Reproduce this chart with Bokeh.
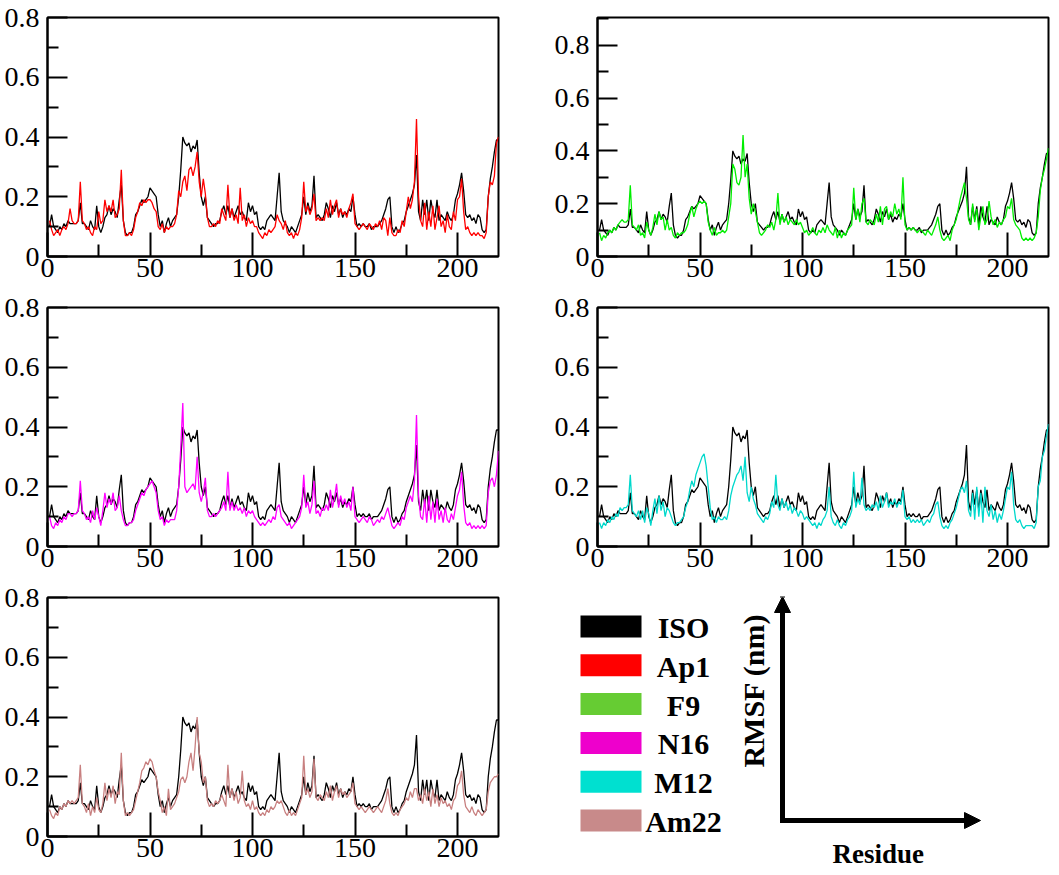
from math import pi
from bokeh.plotting import figure
from bokeh.layouts import column, row
from bokeh.models import Range1d, FixedTicker, Arrow, NormalHead, Label, ColumnDataSource
from bokeh.core.properties import value
from bokeh.embed import file_html
from bokeh.resources import INLINE

residues = list(range(1, 221))

iso = [0.10, 0.14, 0.10, 0.09, 0.08, 0.10, 0.09, 0.11, 0.10, 0.12,
       0.11, 0.11, 0.11, 0.11, 0.12, 0.18, 0.11, 0.11, 0.10, 0.09,
       0.12, 0.10, 0.09, 0.17, 0.10, 0.08, 0.10, 0.13, 0.14, 0.17,
       0.14, 0.16, 0.15, 0.13, 0.19, 0.24, 0.12, 0.08, 0.07, 0.08,
       0.08, 0.10, 0.14, 0.15, 0.17, 0.19, 0.18, 0.19, 0.20, 0.23,
       0.22, 0.21, 0.20, 0.14, 0.10, 0.12, 0.08, 0.11, 0.13, 0.10,
       0.12, 0.13, 0.14, 0.20, 0.29, 0.40, 0.38, 0.37, 0.38, 0.35,
       0.37, 0.36, 0.39, 0.28, 0.20, 0.17, 0.20, 0.13, 0.12, 0.11,
       0.10, 0.11, 0.11, 0.12, 0.15, 0.17, 0.14, 0.17, 0.13, 0.16,
       0.13, 0.15, 0.17, 0.14, 0.15, 0.13, 0.12, 0.18, 0.15, 0.17,
       0.14, 0.15, 0.10, 0.09, 0.10, 0.09, 0.12, 0.13, 0.14, 0.13,
       0.12, 0.20, 0.28, 0.15, 0.12, 0.11, 0.10, 0.08, 0.10, 0.09,
       0.08, 0.10, 0.12, 0.14, 0.20, 0.14, 0.18, 0.15, 0.17, 0.27,
       0.13, 0.14, 0.13, 0.12, 0.14, 0.18, 0.16, 0.13, 0.17, 0.15,
       0.18, 0.14, 0.16, 0.13, 0.15, 0.14, 0.16, 0.15, 0.20, 0.14,
       0.10, 0.11, 0.10, 0.11, 0.10, 0.10, 0.11, 0.09, 0.10, 0.10,
       0.10, 0.11, 0.12, 0.14, 0.16, 0.19, 0.20, 0.10, 0.08, 0.10,
       0.08, 0.09, 0.11, 0.12, 0.15, 0.17, 0.19, 0.21, 0.24, 0.34,
       0.15, 0.12, 0.19, 0.14, 0.19, 0.12, 0.19, 0.15, 0.13, 0.19,
       0.12, 0.14, 0.13, 0.12, 0.15, 0.13, 0.12, 0.14, 0.19, 0.21,
       0.24, 0.28, 0.22, 0.14, 0.13, 0.14, 0.12, 0.13, 0.11, 0.14,
       0.13, 0.09, 0.08, 0.09, 0.20, 0.26, 0.30, 0.35, 0.39, 0.39]

ap1 = [0.12, 0.09, 0.07, 0.08, 0.09, 0.07, 0.09, 0.10, 0.09, 0.11,
       0.16, 0.12, 0.11, 0.11, 0.12, 0.25, 0.12, 0.11, 0.09, 0.10,
       0.08, 0.07, 0.10, 0.09, 0.15, 0.11, 0.12, 0.19, 0.15, 0.17,
       0.15, 0.19, 0.13, 0.14, 0.16, 0.29, 0.12, 0.07, 0.07, 0.08,
       0.07, 0.09, 0.13, 0.15, 0.18, 0.17, 0.19, 0.18, 0.19, 0.19,
       0.18, 0.16, 0.15, 0.10, 0.09, 0.11, 0.08, 0.10, 0.09, 0.10,
       0.10, 0.11, 0.14, 0.22, 0.20, 0.25, 0.27, 0.22, 0.29, 0.30,
       0.27, 0.30, 0.35, 0.25, 0.20, 0.26, 0.21, 0.13, 0.10, 0.10,
       0.11, 0.10, 0.12, 0.11, 0.16, 0.14, 0.12, 0.24, 0.13, 0.16,
       0.12, 0.14, 0.11, 0.23, 0.12, 0.14, 0.10, 0.13, 0.11, 0.12,
       0.10, 0.10, 0.08, 0.07, 0.06, 0.08, 0.07, 0.09, 0.08, 0.09,
       0.10, 0.14, 0.12, 0.11, 0.09, 0.12, 0.08, 0.07, 0.08, 0.06,
       0.08, 0.07, 0.09, 0.13, 0.25, 0.15, 0.17, 0.14, 0.16, 0.21,
       0.12, 0.13, 0.12, 0.13, 0.12, 0.16, 0.13, 0.19, 0.14, 0.17,
       0.19, 0.13, 0.16, 0.14, 0.15, 0.13, 0.16, 0.18, 0.21, 0.11,
       0.10, 0.09, 0.10, 0.11, 0.10, 0.09, 0.11, 0.10, 0.09, 0.11,
       0.10, 0.12, 0.09, 0.13, 0.12, 0.07, 0.13, 0.08, 0.07, 0.07,
       0.09, 0.08, 0.12, 0.10, 0.15, 0.20, 0.16, 0.19, 0.25, 0.46,
       0.20, 0.12, 0.10, 0.18, 0.09, 0.15, 0.10, 0.17, 0.09, 0.13,
       0.17, 0.10, 0.12, 0.08, 0.14, 0.10, 0.09, 0.15, 0.12, 0.19,
       0.20, 0.26, 0.15, 0.09, 0.10, 0.08, 0.07, 0.08, 0.07, 0.08,
       0.07, 0.07, 0.06, 0.08, 0.20, 0.25, 0.24, 0.27, 0.38, 0.40]

f9 = [0.09, 0.06, 0.08, 0.07, 0.09, 0.10, 0.09, 0.11, 0.10, 0.12,
      0.13, 0.14, 0.13, 0.13, 0.14, 0.27, 0.12, 0.11, 0.10, 0.12,
      0.08, 0.09, 0.07, 0.13, 0.10, 0.08, 0.11, 0.16, 0.12, 0.17,
      0.14, 0.15, 0.10, 0.14, 0.10, 0.11, 0.08, 0.07, 0.09, 0.08,
      0.09, 0.09, 0.10, 0.12, 0.16, 0.19, 0.15, 0.18, 0.20, 0.21,
      0.20, 0.21, 0.20, 0.13, 0.10, 0.08, 0.11, 0.08, 0.09, 0.09,
      0.10, 0.09, 0.10, 0.15, 0.20, 0.35, 0.33, 0.28, 0.27, 0.30,
      0.46, 0.30, 0.35, 0.22, 0.16, 0.20, 0.17, 0.13, 0.09, 0.08,
      0.09, 0.10, 0.12, 0.11, 0.13, 0.10, 0.14, 0.24, 0.12, 0.16,
      0.13, 0.15, 0.12, 0.14, 0.13, 0.12, 0.14, 0.12, 0.13, 0.11,
      0.09, 0.10, 0.08, 0.09, 0.11, 0.09, 0.08, 0.10, 0.09, 0.11,
      0.09, 0.12, 0.10, 0.09, 0.08, 0.11, 0.07, 0.10, 0.07, 0.09,
      0.08, 0.10, 0.11, 0.12, 0.26, 0.14, 0.18, 0.13, 0.20, 0.22,
      0.13, 0.12, 0.14, 0.13, 0.12, 0.16, 0.13, 0.19, 0.12, 0.18,
      0.19, 0.14, 0.17, 0.15, 0.20, 0.16, 0.18, 0.14, 0.30, 0.12,
      0.10, 0.11, 0.10, 0.11, 0.10, 0.09, 0.10, 0.10, 0.09, 0.08,
      0.10, 0.09, 0.08, 0.10, 0.12, 0.15, 0.10, 0.07, 0.06, 0.07,
      0.08, 0.06, 0.10, 0.12, 0.14, 0.18, 0.22, 0.25, 0.28, 0.22,
      0.14, 0.12, 0.20, 0.13, 0.18, 0.10, 0.15, 0.19, 0.12, 0.14,
      0.21, 0.15, 0.12, 0.14, 0.11, 0.13, 0.12, 0.14, 0.15, 0.19,
      0.18, 0.22, 0.14, 0.12, 0.11, 0.10, 0.07, 0.06, 0.07, 0.06,
      0.07, 0.06, 0.07, 0.09, 0.15, 0.25, 0.30, 0.33, 0.37, 0.41]

n16 = [0.10, 0.07, 0.06, 0.08, 0.07, 0.09, 0.08, 0.10, 0.09, 0.11,
       0.11, 0.10, 0.11, 0.11, 0.12, 0.22, 0.12, 0.11, 0.09, 0.10,
       0.08, 0.12, 0.09, 0.13, 0.10, 0.07, 0.12, 0.18, 0.13, 0.16,
       0.14, 0.18, 0.12, 0.13, 0.17, 0.12, 0.09, 0.07, 0.07, 0.08,
       0.08, 0.09, 0.12, 0.14, 0.16, 0.18, 0.17, 0.19, 0.20, 0.21,
       0.22, 0.20, 0.18, 0.12, 0.09, 0.10, 0.07, 0.09, 0.08, 0.09,
       0.09, 0.09, 0.12, 0.20, 0.33, 0.48, 0.20, 0.18, 0.19, 0.20,
       0.21, 0.19, 0.30, 0.18, 0.15, 0.18, 0.23, 0.12, 0.10, 0.10,
       0.11, 0.10, 0.11, 0.12, 0.13, 0.15, 0.12, 0.25, 0.12, 0.15,
       0.12, 0.14, 0.12, 0.13, 0.11, 0.13, 0.10, 0.12, 0.11, 0.12,
       0.10, 0.09, 0.08, 0.07, 0.08, 0.07, 0.08, 0.09, 0.08, 0.10,
       0.09, 0.13, 0.14, 0.10, 0.09, 0.08, 0.07, 0.08, 0.06, 0.07,
       0.08, 0.09, 0.10, 0.13, 0.24, 0.13, 0.15, 0.11, 0.14, 0.22,
       0.11, 0.12, 0.10, 0.13, 0.12, 0.14, 0.12, 0.19, 0.13, 0.16,
       0.21, 0.13, 0.17, 0.14, 0.16, 0.13, 0.15, 0.12, 0.20, 0.10,
       0.09, 0.08, 0.09, 0.10, 0.09, 0.08, 0.10, 0.09, 0.07, 0.08,
       0.09, 0.08, 0.10, 0.09, 0.11, 0.13, 0.10, 0.07, 0.06, 0.07,
       0.08, 0.07, 0.10, 0.09, 0.13, 0.15, 0.17, 0.15, 0.22, 0.44,
       0.17, 0.10, 0.09, 0.16, 0.08, 0.17, 0.09, 0.15, 0.08, 0.16,
       0.09, 0.12, 0.08, 0.13, 0.09, 0.08, 0.11, 0.09, 0.13, 0.17,
       0.19, 0.25, 0.14, 0.08, 0.07, 0.08, 0.06, 0.07, 0.06, 0.07,
       0.06, 0.07, 0.06, 0.07, 0.18, 0.22, 0.23, 0.20, 0.24, 0.32]

m12 = [0.08, 0.06, 0.08, 0.07, 0.09, 0.08, 0.10, 0.09, 0.11, 0.10,
       0.13, 0.12, 0.13, 0.13, 0.14, 0.24, 0.12, 0.11, 0.10, 0.12,
       0.09, 0.12, 0.08, 0.13, 0.11, 0.07, 0.12, 0.16, 0.11, 0.17,
       0.12, 0.15, 0.10, 0.13, 0.12, 0.10, 0.08, 0.07, 0.08, 0.08,
       0.09, 0.10, 0.13, 0.15, 0.19, 0.22, 0.20, 0.24, 0.26, 0.28,
       0.30, 0.31, 0.27, 0.20, 0.13, 0.09, 0.10, 0.08, 0.10, 0.09,
       0.09, 0.10, 0.09, 0.12, 0.17, 0.20, 0.22, 0.24, 0.25, 0.27,
       0.22, 0.30, 0.18, 0.15, 0.20, 0.16, 0.14, 0.11, 0.10, 0.09,
       0.08, 0.10, 0.09, 0.11, 0.15, 0.13, 0.24, 0.14, 0.12, 0.16,
       0.13, 0.15, 0.12, 0.14, 0.11, 0.13, 0.12, 0.10, 0.12, 0.11,
       0.09, 0.10, 0.09, 0.08, 0.07, 0.08, 0.06, 0.08, 0.07, 0.09,
       0.10, 0.12, 0.20, 0.10, 0.08, 0.07, 0.09, 0.07, 0.06, 0.08,
       0.07, 0.09, 0.10, 0.12, 0.25, 0.13, 0.16, 0.14, 0.23, 0.14,
       0.12, 0.13, 0.12, 0.14, 0.13, 0.15, 0.12, 0.17, 0.13, 0.15,
       0.18, 0.13, 0.15, 0.14, 0.16, 0.13, 0.15, 0.14, 0.19, 0.10,
       0.09, 0.10, 0.08, 0.09, 0.08, 0.09, 0.08, 0.09, 0.07, 0.08,
       0.09, 0.08, 0.10, 0.11, 0.14, 0.15, 0.10, 0.07, 0.06, 0.07,
       0.06, 0.08, 0.09, 0.11, 0.13, 0.16, 0.19, 0.20, 0.18, 0.22,
       0.12, 0.10, 0.18, 0.09, 0.20, 0.10, 0.18, 0.08, 0.20, 0.12,
       0.10, 0.14, 0.09, 0.12, 0.08, 0.11, 0.09, 0.12, 0.16, 0.20,
       0.19, 0.25, 0.14, 0.09, 0.08, 0.09, 0.07, 0.06, 0.07, 0.07,
       0.07, 0.07, 0.06, 0.08, 0.20, 0.22, 0.30, 0.32, 0.37, 0.41]

am22 = [0.09, 0.07, 0.06, 0.08, 0.07, 0.10, 0.09, 0.11, 0.10, 0.12,
        0.11, 0.12, 0.11, 0.12, 0.13, 0.24, 0.11, 0.10, 0.08, 0.11,
        0.07, 0.10, 0.08, 0.13, 0.09, 0.08, 0.11, 0.18, 0.12, 0.16,
        0.13, 0.17, 0.11, 0.15, 0.14, 0.28, 0.12, 0.07, 0.08, 0.07,
        0.08, 0.09, 0.12, 0.15, 0.18, 0.22, 0.23, 0.25, 0.24, 0.26,
        0.25, 0.22, 0.20, 0.15, 0.12, 0.08, 0.10, 0.07, 0.16, 0.09,
        0.10, 0.11, 0.13, 0.15, 0.19, 0.20, 0.18, 0.20, 0.25, 0.28,
        0.22, 0.30, 0.40, 0.28, 0.25, 0.18, 0.20, 0.12, 0.10, 0.11,
        0.10, 0.12, 0.11, 0.12, 0.14, 0.12, 0.10, 0.24, 0.13, 0.16,
        0.12, 0.15, 0.11, 0.13, 0.22, 0.12, 0.10, 0.11, 0.09, 0.12,
        0.09, 0.10, 0.08, 0.07, 0.08, 0.07, 0.09, 0.08, 0.10, 0.09,
        0.10, 0.12, 0.11, 0.12, 0.10, 0.08, 0.07, 0.09, 0.07, 0.08,
        0.07, 0.09, 0.11, 0.13, 0.27, 0.14, 0.16, 0.13, 0.15, 0.26,
        0.13, 0.12, 0.14, 0.13, 0.12, 0.15, 0.13, 0.17, 0.12, 0.15,
        0.17, 0.13, 0.16, 0.14, 0.15, 0.13, 0.14, 0.15, 0.18, 0.11,
        0.10, 0.09, 0.10, 0.09, 0.08, 0.09, 0.10, 0.09, 0.08, 0.09,
        0.10, 0.09, 0.08, 0.10, 0.12, 0.16, 0.11, 0.08, 0.07, 0.08,
        0.07, 0.09, 0.10, 0.11, 0.13, 0.12, 0.15, 0.13, 0.16, 0.16,
        0.12, 0.14, 0.11, 0.16, 0.12, 0.15, 0.10, 0.16, 0.11, 0.14,
        0.10, 0.13, 0.11, 0.12, 0.10, 0.11, 0.09, 0.12, 0.13, 0.17,
        0.18, 0.22, 0.14, 0.10, 0.09, 0.08, 0.10, 0.08, 0.07, 0.09,
        0.08, 0.07, 0.08, 0.09, 0.15, 0.18, 0.19, 0.20, 0.20, 0.21]

series_names = ["ISO", "Ap1", "F9", "N16", "M12", "Am22"]
line_colors = ["#000000", "#ff0000", "#00ee00", "#ff00ff", "#00d8cc", "#c88080"]
legend_colors = ["#000000", "#ff0000", "#66cc33", "#ee00cc", "#00e0d0", "#c88a8a"]

x_major = [0, 50, 100, 150, 200]
x_minor = [25, 75, 125, 175]
y_major = [0, 0.2, 0.4, 0.6, 0.8]
y_minor = [0.1, 0.3, 0.5, 0.7, 0.9]
y_labels = {0: "0", 0.2: "0.2", 0.4: "0.4", 0.6: "0.6", 0.8: "0.8"}

FONT = "Liberation Serif"
ROW_H = 290
TOP_B = 17
BOT_B = 34
LEFT_W = 540
RIGHT_W = 519


def panel(variant, color, ymax, width, left, right):
    p = figure(width=width, height=ROW_H, x_range=Range1d(0, 220), y_range=Range1d(0, ymax),
               output_backend="svg", toolbar_location=None, title=None,
               min_border_left=left, min_border_right=right,
               min_border_top=TOP_B, min_border_bottom=BOT_B)
    p.grid.visible = False
    p.background_fill_color = "white"
    p.border_fill_color = "white"
    p.outline_line_color = "black"
    p.outline_line_width = 2
    p.line(residues, iso, line_color="#000000", line_width=1.3)
    p.line(residues, variant, line_color=color, line_width=1.3)
    p.xaxis.ticker = FixedTicker(ticks=x_major, minor_ticks=x_minor)
    p.yaxis.ticker = FixedTicker(ticks=y_major, minor_ticks=y_minor)
    p.yaxis.major_label_overrides = y_labels
    for ax in (p.xaxis[0], p.yaxis[0]):
        ax.axis_line_width = 2
        ax.major_tick_line_width = 2
        ax.minor_tick_line_width = 2
        ax.major_tick_out = 0
        ax.minor_tick_out = 0
        ax.major_label_text_font = FONT
        ax.major_label_text_font_size = "28px"
        ax.major_label_text_color = "black"
    p.yaxis.major_tick_in = 20
    p.yaxis.minor_tick_in = 11
    p.xaxis.major_tick_in = 24
    p.xaxis.minor_tick_in = 12
    p.yaxis.major_label_standoff = 8
    p.xaxis.major_label_standoff = 2
    return p


p_ap1 = panel(ap1, line_colors[1], 0.8, LEFT_W, 47, 42)
p_f9 = panel(f9, line_colors[2], 0.905, RIGHT_W, 57, 11)
p_n16 = panel(n16, line_colors[3], 0.8, LEFT_W, 47, 42)
p_m12 = panel(m12, line_colors[4], 0.8, RIGHT_W, 57, 11)
p_am22 = panel(am22, line_colors[5], 0.8, LEFT_W, 47, 42)

# legend and axis-key panel: data units equal pixels of this panel, y downwards
k = figure(width=RIGHT_W, height=ROW_H, x_range=Range1d(0, RIGHT_W),
           y_range=Range1d(ROW_H - BOT_B, TOP_B),
           output_backend="svg", toolbar_location=None, x_axis_location=None, y_axis_location=None,
           title="Residue", title_location="below", min_border_left=0, min_border_right=0,
           min_border_top=TOP_B, min_border_bottom=BOT_B)
k.grid.visible = False
k.outline_line_color = None
k.background_fill_color = "white"
k.border_fill_color = "white"
k.title.align = "left"
k.title.offset = 292
k.title.standoff = 0
k.title.text_font = FONT
k.title.text_font_style = "bold"
k.title.text_font_size = "27px"
k.title.text_color = "black"

step = 38.8
tops = [35 + i * step for i in range(6)]
box_src = ColumnDataSource(dict(
    left=[40] * 6, right=[101] * 6,
    top=tops, bottom=[t + 22 for t in tops],
    color=legend_colors, name=series_names,
    tx=[143] * 6, ty=[t + 12 for t in tops],
))
k.quad(left="left", right="right", top="top", bottom="bottom", fill_color="color",
       line_color=None, source=box_src)
k.text(x="tx", y="ty", text="name", source=box_src, text_font=value(FONT), text_font_style="bold",
       text_font_size="30px", text_align="center", text_baseline="middle", text_color="black")

ox, oy = 242, 240
k.add_layout(Arrow(end=NormalHead(size=16, fill_color="black", line_color="black"),
                   x_start=ox, y_start=oy + 2.5, x_end=ox, y_end=16, line_width=5, line_color="black"))
k.add_layout(Arrow(end=NormalHead(size=16, fill_color="black", line_color="black"),
                   x_start=ox - 2.5, y_start=oy, x_end=440, y_end=oy, line_width=5, line_color="black"))
k.add_layout(Label(x=213, y=110, text="RMSF (nm)", angle=pi / 2, text_align="center",
                   text_baseline="middle", text_font=FONT, text_font_style="bold",
                   text_font_size="30px", text_color="black"))

layout = column(row(p_ap1, p_f9), row(p_n16, p_m12), row(p_am22, k))

open("out.html", "w").write(file_html(layout, INLINE))
